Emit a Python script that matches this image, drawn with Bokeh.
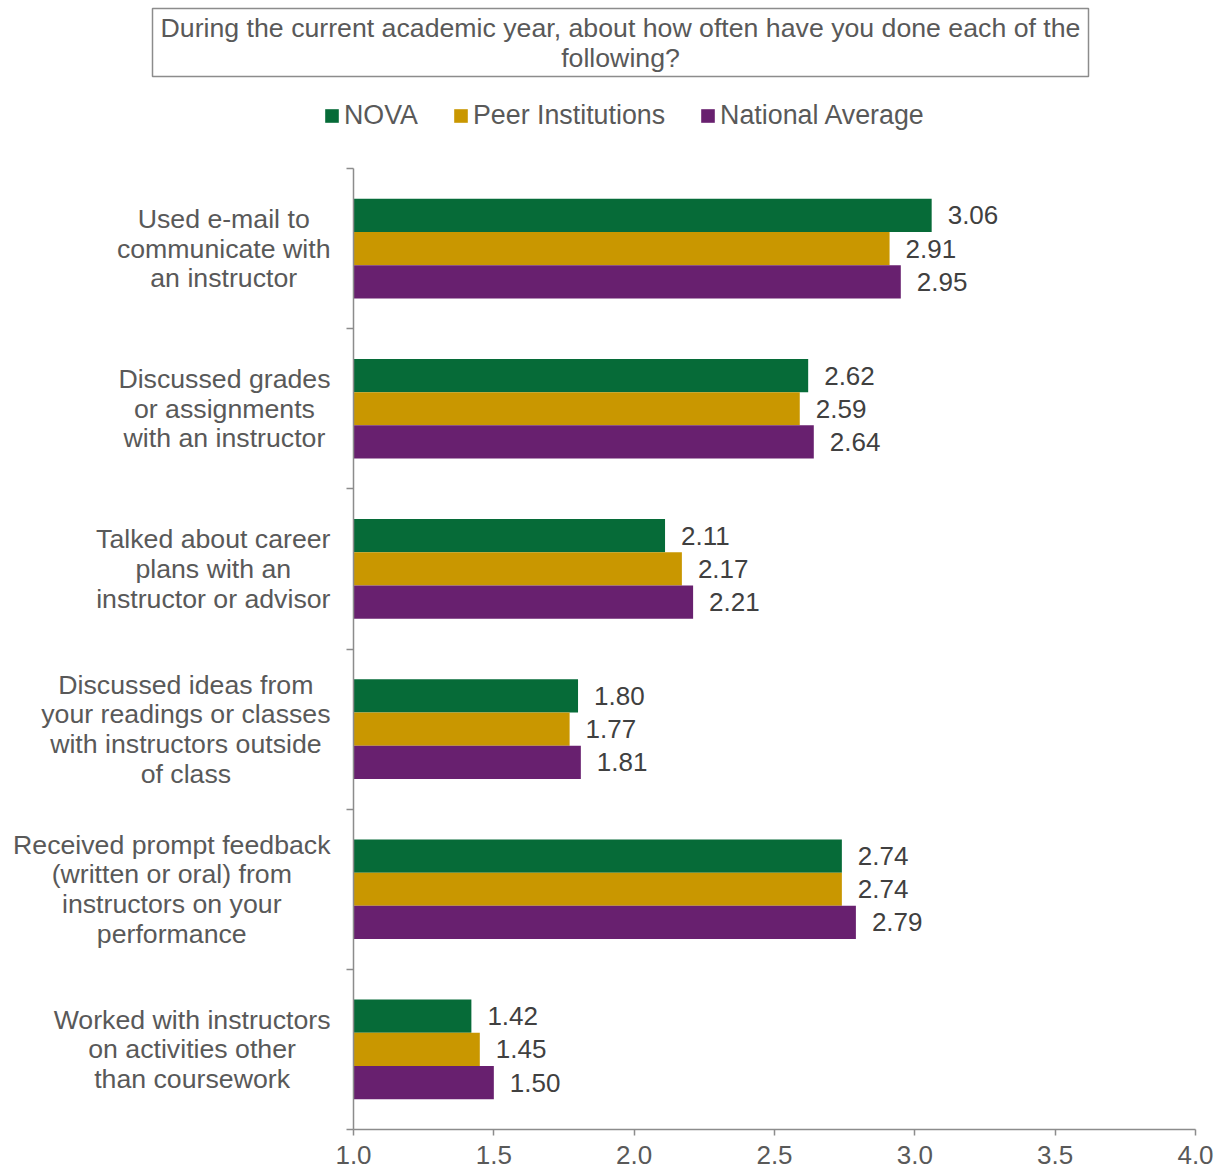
from bokeh.plotting import figure
from bokeh.models import (Range1d, FixedTicker, Legend, LegendItem, PrintfTickFormatter, Text)
from bokeh.layouts import column, row
from bokeh.embed import file_html
from bokeh.resources import INLINE
from bokeh.core.properties import value

# ---------------- data ----------------
categories = [
    "Used e-mail to\ncommunicate with\nan instructor",
    "Discussed grades\nor assignments\nwith an instructor",
    "Talked about career\nplans with an\ninstructor or advisor",
    "Discussed ideas from\nyour readings or classes\nwith instructors outside\nof class",
    "Received prompt feedback\n(written or oral) from\ninstructors on your\nperformance",
    "Worked with instructors\non activities other\nthan coursework",
]
nova = [3.06, 2.62, 2.11, 1.80, 2.74, 1.42]
peer = [2.91, 2.59, 2.17, 1.77, 2.74, 1.45]
national = [2.95, 2.64, 2.21, 1.81, 2.79, 1.50]
series_names = ["NOVA", "Peer Institutions", "National Average"]
x_ticks = [1.0, 1.5, 2.0, 2.5, 3.0, 3.5, 4.0]
title_text = ("During the current academic year, about how often have you done each of the\n"
              "following?")

# ---------------- style / layout ----------------
FONT = "Liberation Sans"
COLORS = ["#066B38", "#C99700", "#68206F"]
TEXT = "#595959"
VAL_TEXT = "#404040"
AXIS = "#8c8c8c"
BAR_H = 0.2075
OFFSETS = [BAR_H, 0.0, -BAR_H]

TOTAL_W, TOTAL_H = 1222, 1175
HEADER_H = 158
LABEL_W = 333
MAIN_W = TOTAL_W - LABEL_W
BODY_H = TOTAL_H - HEADER_H
B_TOP, B_BOTTOM, B_LEFT, B_RIGHT = 10, 46, 20, 27

text_props = Text.properties()

n = len(categories)
centers = [n - i - 0.5 for i in range(n)]
series = [nova, peer, national]

# ---------------- main chart ----------------
p = figure(width=MAIN_W, height=BODY_H, x_range=Range1d(1, 4), y_range=Range1d(0, n),
           output_backend="svg", toolbar_location=None,
           min_border_left=B_LEFT, min_border_right=B_RIGHT,
           min_border_top=B_TOP, min_border_bottom=B_BOTTOM)
p.outline_line_color = None
p.xgrid.grid_line_color = None
p.ygrid.grid_line_color = None

for vals, col, off in zip(series, COLORS, OFFSETS):
    ys = [c + off for c in centers]
    p.hbar(y=ys, left=1.0, right=vals, height=BAR_H, fill_color=col, line_color=None)
    p.text(x=vals, y=ys, text=[f"{v:.2f}" for v in vals], x_offset=16,
           text_baseline="middle", text_align="left", text_font=value(FONT),
           text_font_size="26px", text_color=VAL_TEXT)

p.xaxis.ticker = FixedTicker(ticks=x_ticks)
p.xaxis.formatter = PrintfTickFormatter(format="%.1f")
p.xaxis.major_label_text_font = FONT
p.xaxis.major_label_text_font_size = "26px"
p.xaxis.major_label_text_color = TEXT
p.xaxis.major_label_standoff = 10
p.xaxis.major_tick_out = 6
p.xaxis.major_tick_in = 0
p.xaxis.minor_tick_line_color = None
p.xaxis.axis_line_color = AXIS
p.xaxis.axis_line_width = 1.5
p.xaxis.major_tick_line_color = AXIS
p.xaxis.major_tick_line_width = 1.5

y_bounds = list(range(n + 1))
p.yaxis.ticker = FixedTicker(ticks=y_bounds)
p.yaxis.major_label_overrides = {b: "" for b in y_bounds}
p.yaxis.major_label_standoff = 0
p.yaxis.major_tick_out = 7
p.yaxis.major_tick_in = 0
p.yaxis.minor_tick_line_color = None
p.yaxis.axis_line_color = AXIS
p.yaxis.axis_line_width = 1.5
p.yaxis.major_tick_line_color = AXIS
p.yaxis.major_tick_line_width = 1.5

# ---------------- category labels (left) ----------------
lf = figure(width=LABEL_W, height=BODY_H, x_range=Range1d(0, LABEL_W), y_range=p.y_range,
            output_backend="svg", toolbar_location=None,
            x_axis_location=None, y_axis_location=None,
            min_border_left=0, min_border_right=0,
            min_border_top=B_TOP, min_border_bottom=B_BOTTOM)
lf.outline_line_color = None
lf.xgrid.grid_line_color = None
lf.ygrid.grid_line_color = None
lkw = dict(x=[LABEL_W - 3] * n, y=centers, text=categories, text_baseline="middle",
           text_font=value(FONT), text_font_size="26.7px", text_color=TEXT,
           text_line_height=0.99)
if "anchor" in text_props:
    lkw.update(text_align="center", anchor="center_right")
else:
    lkw.update(text_align="right")
lf.text(**lkw)

# ---------------- header: title box + legend ----------------
hf = figure(width=TOTAL_W, height=HEADER_H, x_range=Range1d(0, TOTAL_W), y_range=Range1d(HEADER_H, 0),
            output_backend="svg", toolbar_location=None,
            x_axis_location=None, y_axis_location=None,
            min_border_left=0, min_border_right=0, min_border_top=0, min_border_bottom=0)
hf.outline_line_color = None
hf.xgrid.grid_line_color = None
hf.ygrid.grid_line_color = None

hf.quad(left=[152], right=[1088], top=[8], bottom=[76], fill_color="white",
        line_color=AXIS, line_width=1.5)
tkw = dict(x=[620], y=[42.5], text=[title_text], text_baseline="middle", text_align="center",
           text_font=value(FONT), text_font_size="26.7px", text_color=TEXT, text_line_height=1.0)
if "anchor" in text_props:
    tkw["anchor"] = "center"
hf.text(**tkw)

# legend proxies: the same series, hidden in the header (legend swatches only)
leg_renderers = []
for vals, col in zip(series, COLORS):
    leg_renderers.append(hf.hbar(y=centers, left=1.0, right=vals, height=BAR_H,
                                 fill_color=col, line_color=None, visible=False))
legend = Legend(items=[LegendItem(label=nm, renderers=[r]) for nm, r in zip(series_names, leg_renderers)],
                orientation="horizontal", location=(323, 27),
                glyph_width=17, glyph_height=17, label_standoff=4, spacing=34,
                padding=0, margin=0, border_line_color=None, background_fill_alpha=0,
                label_text_font=FONT, label_text_font_size="26.8px", label_text_color=TEXT)
hf.add_layout(legend)

layout = column(hf, row(lf, p, spacing=0), spacing=0)
open("out.html", "w").write(file_html(layout, INLINE))
